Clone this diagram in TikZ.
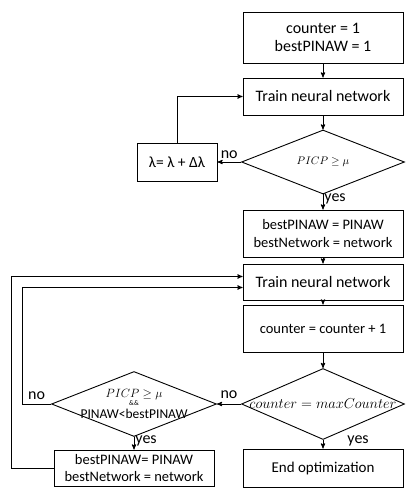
\documentclass[tikz,border=0pt]{standalone}
\usepackage{fontspec}
\setmainfont{Carlito}
\usepackage{amsmath,amssymb}
\usetikzlibrary{arrows,shapes.geometric,positioning}
\newcommand{\boxfont}{\fontsize{16}{18.5}\selectfont}
\newcommand{\smallbox}{\fontsize{14.5}{17.5}\selectfont}

\begin{document}
\begin{tikzpicture}[>=stealth',x=1pt,y=-1pt,line width=0.9pt,
  box/.style={draw,rectangle,minimum width=160pt,inner sep=2pt,align=center,font=\boxfont},
  cond/.style={draw,diamond,aspect=2.5,inner sep=0pt,minimum width=163pt,align=center},
  lbl/.style={font=\boxfont,inner sep=1pt}]
\useasboundingbox (0,0) rectangle (419,492);

\node[box,minimum height=51pt] (init) at (323,37.5) {counter = 1\\bestPINAW = 1};
\node[box,minimum height=37pt] (train1) [below of=init,node distance=59pt] {Train neural network};
\node[cond,minimum height=64pt] (check1) [below of=train1,node distance=65.5pt] {\fontsize{11}{13}\selectfont$PICP \geq \mu$};
\node[box,minimum width=80pt,minimum height=38pt,font=\fontsize{15.5}{17}\selectfont] (lambda) [left of=check1,node distance=146pt] {λ= λ + Δλ};
\node[box,minimum height=47pt,font=\smallbox] (update1) [below of=check1,node distance=71.5pt] {bestPINAW = PINAW\\bestNetwork = network};
\node[box,minimum height=36pt] (train2) [below of=update1,node distance=48.5pt] {Train neural network};
\node[box,minimum height=47pt,font=\smallbox] (incr) [below of=train2,node distance=46.5pt] {counter = counter + 1};
\node[cond,minimum height=71pt,inner sep=-6pt] (check2) [below of=incr,node distance=75.5pt] {\fontsize{13.5}{15}\selectfont$counter = maxCounter$};
\node[box,minimum height=38pt,font=\fontsize{15}{17}\selectfont] (stop) [below of=check2,node distance=64pt] {End optimization};
\node[cond,minimum width=165pt,minimum height=65pt,inner sep=-10pt] (check3) [left of=check2,node distance=189pt]
  {\fontsize{12}{9}\selectfont$PICP \geq \mu$\\[-4pt]\fontsize{7}{7}\selectfont\&\&\\[1pt]\fontsize{13.5}{13}\selectfont PINAW<bestPINAW};
\node[box,minimum height=36pt,inner sep=1pt,font=\smallbox] (update2) [below of=check3,node distance=64pt] {bestPINAW= PINAW\\bestNetwork = network};

\coordinate (in1) at ([yshift=5.5pt]train2.west);
\coordinate (in2) at ([yshift=-5.5pt]train2.west);

\draw[->] (init) -- (train1);
\draw[->] (train1) -- (check1);
\draw[->] (check1) -- node[lbl,above,yshift=2pt]{no} (lambda);
\draw[->] (lambda) |- (train1);
\draw[->] (check1) -- node[lbl,right,pos=0.3]{yes} (update1);
\draw[->] (update1) -- (train2);
\draw[->] (train2) -- (incr);
\draw[->] (incr) -- (check2);
\draw[->] (check2) -- node[lbl,right=23pt,pos=0.1]{yes} (stop);
\draw[->] (check2) -- node[lbl,above,yshift=4pt]{no} (check3);
\draw[->] (check3) -- node[lbl,right,pos=0.3]{yes} (update2);
\draw[->] (check3.west) -- ++(-29,0) node[lbl,above,pos=0.5,yshift=3pt]{no} |- (in2);
\draw[->] (update2.west) -- ++(-42,0) |- (in1);

\end{tikzpicture}
\end{document}
